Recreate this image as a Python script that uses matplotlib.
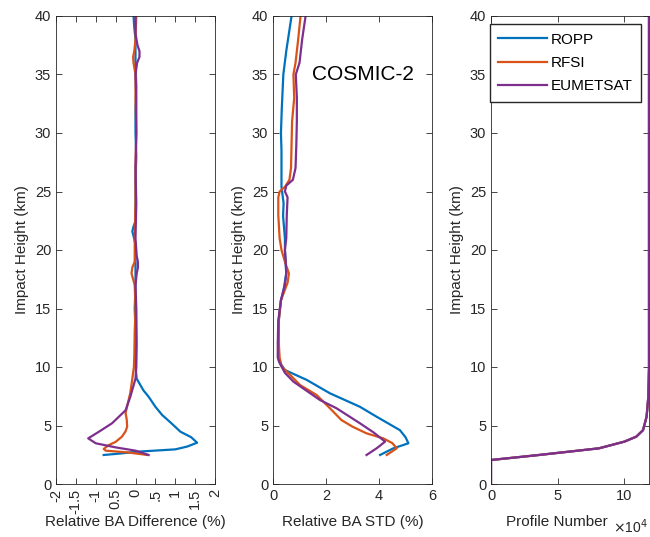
import matplotlib
matplotlib.use("Agg")
import matplotlib.pyplot as plt

plt.rcParams['font.family'] = ['Liberation Sans', 'DejaVu Sans']

# MATLAB default colours
colors = {'ROPP': '#0072BD', 'RFSI': '#D95319', 'EUMETSAT': '#7E2F8E'}
series = ['ROPP', 'RFSI', 'EUMETSAT']

# ---- panel 1: relative bending angle difference (%)
h_diff_ropp = [40, 39, 38, 36, 34, 32, 30, 28, 26, 24, 22.5, 22, 21.6, 21.2, 20.5, 19, 17, 15, 13, 11, 10, 9,
               8, 7.46, 6.6, 5.9, 5.2, 4.47, 4.0, 3.53, 3.2, 2.96, 2.76, 2.6, 2.48]
x_diff_ropp = [-0.05, -0.03, 0, 0, 0.02, 0, 0, 0.02, 0, 0, 0, -0.05, -0.08, -0.05, 0, 0, 0, -0.02, 0, 0, 0, 0.03,
               0.2, 0.33, 0.5, 0.67, 0.9, 1.13, 1.4, 1.55, 1.3, 1.0, 0.04, -0.4, -0.8]
h_diff_rfsi = [40, 38, 37, 36.5, 36, 35, 33, 30, 27, 24, 21, 19, 18.5, 18, 17.5, 17, 15, 13, 11, 10, 9,
               7.8, 6.07, 5.5, 4.9, 4.5, 4.05, 3.6, 3.33, 3.0, 2.85, 2.7, 2.48]
x_diff_rfsi = [0.02, 0, -0.03, -0.06, -0.05, 0, 0, 0.02, 0, 0, -0.02, -0.02, -0.08, -0.1, -0.06, -0.02, 0, -0.02,
               -0.03, -0.04, -0.08, -0.13, -0.25, -0.22, -0.21, -0.25, -0.34, -0.5, -0.67, -0.8, -0.75, -0.2, 0.3]
h_diff_eum = [40, 38.5, 37.5, 37, 36.5, 36, 35, 33, 30, 27, 24, 21, 19.5, 19, 18.5, 18, 17, 15, 12, 10, 9,
              7.46, 6.3, 5.19, 4.47, 3.9, 3.48, 3.13, 2.85, 2.48]
x_diff_eum = [0, 0, 0.05, 0.1, 0.1, 0.04, 0, 0.02, 0.02, 0, 0.02, 0, 0.03, 0.06, 0.06, 0.03, 0, 0.02, 0.03, 0.02, 0,
              -0.13, -0.25, -0.59, -0.92, -1.19, -1.0, -0.5, 0, 0.33]

# ---- panel 2: relative bending angle STD (%)
h_std_ropp = [40, 37, 35, 32, 30, 28.5, 27, 25.4, 24, 22.9, 21, 20, 18, 16.6, 15.7, 14, 12, 10.5,
              9.74, 8.9, 7.75, 6.6, 5.75, 4.6, 4.0, 3.48, 3.05, 2.48]
x_std_ropp = [0.7, 0.5, 0.39, 0.33, 0.3, 0.32, 0.32, 0.32, 0.4, 0.38, 0.45, 0.45, 0.5, 0.4, 0.3, 0.22, 0.2, 0.22,
              0.45, 1.27, 2.15, 3.28, 3.91, 4.79, 5.0, 5.11, 4.54, 4.04]
h_std_rfsi = [40, 38, 36, 35, 33, 31, 29, 27, 26, 25.4, 25, 24.5, 23, 21, 20, 19, 18, 17.2, 16.6, 15.7, 14, 12,
              10.8, 10.03, 9.2, 8.46, 7.6, 6.47, 5.47, 4.9, 4.33, 3.9, 3.5, 3.05, 2.48]
x_std_rfsi = [1.04, 0.95, 0.85, 0.77, 0.8, 0.72, 0.7, 0.68, 0.62, 0.45, 0.25, 0.2, 0.2, 0.25, 0.32, 0.45, 0.6, 0.55,
              0.45, 0.3, 0.22, 0.22, 0.25, 0.33, 0.7, 1.02, 1.65, 2.15, 2.58, 3.0, 3.53, 4.16, 4.5, 4.67, 4.29]
h_std_eum = [40, 38, 36, 35, 33, 31, 29, 27, 26, 25.5, 25, 24.5, 23, 21, 20, 19, 18, 17, 16.6, 15.7, 14, 12,
             10.8, 10.3, 9.5, 8.75, 7.18, 6.47, 5.19, 4.4, 3.62, 3.05, 2.48]
x_std_eum = [1.23, 1.1, 1.0, 0.86, 0.9, 0.9, 0.88, 0.85, 0.75, 0.5, 0.45, 0.55, 0.52, 0.5, 0.45, 0.48, 0.5, 0.45,
             0.4, 0.3, 0.2, 0.18, 0.18, 0.26, 0.45, 0.77, 1.77, 2.4, 3.28, 3.8, 4.23, 3.91, 3.53]

# ---- panel 3: number of profiles (x 10^4), same for all centres
h_count = [0, 2.05, 2.48, 3.05, 3.62, 4.05, 4.6, 5.75, 7.46, 10, 15, 40]
n_count = [0, 0, 3.6, 8.1, 10.0, 10.9, 11.4, 11.67, 11.8, 11.85, 11.85, 11.85]

diff_ticks = [-2, -1.5, -1, -0.5, 0, 0.5, 1, 1.5, 2]
diff_tick_labels = ['-2', '-1.5', '-1', '0.5', '0', '.5', '1', '1.5', '2']

text_col = '#262626'
lw = 1.6
xlab_y = -0.066  # x labels sit at the same height in all panels

fig = plt.figure(figsize=(6.5, 5.37), dpi=100)
ax1 = fig.add_axes([56 / 650, 53 / 537, 159 / 650, 468 / 537])
ax2 = fig.add_axes([273 / 650, 53 / 537, 159 / 650, 468 / 537])
ax3 = fig.add_axes([491 / 650, 53 / 537, 158 / 650, 468 / 537])

ax1.plot(x_diff_ropp, h_diff_ropp, color=colors['ROPP'], lw=lw)
ax1.plot(x_diff_rfsi, h_diff_rfsi, color=colors['RFSI'], lw=lw)
ax1.plot(x_diff_eum, h_diff_eum, color=colors['EUMETSAT'], lw=lw)

ax2.plot(x_std_ropp, h_std_ropp, color=colors['ROPP'], lw=lw)
ax2.plot(x_std_rfsi, h_std_rfsi, color=colors['RFSI'], lw=lw)
ax2.plot(x_std_eum, h_std_eum, color=colors['EUMETSAT'], lw=lw)

for s in series:
    ax3.plot(n_count, h_count, color=colors[s], lw=lw, label=s)

ax1.set_xlim(-2, 2)
ax1.set_xticks(diff_ticks)
ax1.set_xticklabels(diff_tick_labels, rotation=90, va='top', ha='center')
ax1.set_xlabel('Relative BA Difference (%)', fontsize=11, color=text_col)
ax1.xaxis.set_label_coords(0.5, xlab_y)

ax2.set_xlim(0, 6)
ax2.set_xticks([0, 2, 4, 6])
ax2.set_xlabel('Relative BA STD (%)', fontsize=11, color=text_col)
ax2.xaxis.set_label_coords(0.5, xlab_y)
ax2.text(3.4, 35, 'COSMIC-2', fontsize=15, ha='center', va='center', color='black')

ax3.set_xlim(0, max(n_count))
ax3.set_xticks([0, 5, 10])
ax3.set_xlabel('Profile Number', fontsize=11, color=text_col)
ax3.xaxis.set_label_coords(0.42, xlab_y)
ax3.text(0.775, -0.092, r'$\times$10$^4$', transform=ax3.transAxes, ha='left', va='center',
         fontsize=10, color=text_col)
ax3.legend(loc='upper right', fontsize=11, handlelength=3.2, frameon=True, fancybox=False,
           framealpha=1, edgecolor=text_col, borderaxespad=0.55, labelspacing=0.6,
           borderpad=0.55, handletextpad=0.2)

for ax in (ax1, ax2, ax3):
    ax.set_ylim(0, 40)
    ax.set_yticks(range(0, 41, 5))
    ax.set_ylabel('Impact Height (km)', fontsize=11, color=text_col, labelpad=4)
    ax.tick_params(direction='in', top=True, right=True, length=4, width=0.6,
                   labelsize=10.5, colors=text_col, labelcolor=text_col)
    for sp in ax.spines.values():
        sp.set_color(text_col)
        sp.set_linewidth(0.6)

fig.savefig('out.png', dpi=100)
